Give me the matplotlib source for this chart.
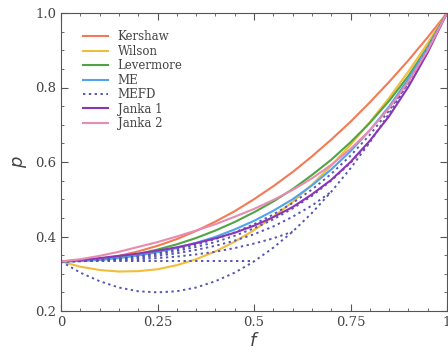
import matplotlib
matplotlib.use("Agg")
import matplotlib.pyplot as plt
from matplotlib.ticker import MultipleLocator

# flux factor grid and Eddington factor p for each closure
f = [0.00, 0.05, 0.10, 0.15, 0.20, 0.25, 0.30, 0.35, 0.40, 0.45, 0.50,
     0.55, 0.60, 0.65, 0.70, 0.75, 0.80, 0.85, 0.90, 0.95, 1.00]

kershaw = [0.333, 0.335, 0.340, 0.348, 0.360, 0.375, 0.393, 0.415, 0.440, 0.468, 0.500,
           0.535, 0.573, 0.615, 0.660, 0.708, 0.760, 0.815, 0.873, 0.935, 1.000]
wilson = [0.333, 0.319, 0.310, 0.306, 0.307, 0.312, 0.323, 0.339, 0.360, 0.386, 0.417,
          0.453, 0.493, 0.539, 0.590, 0.646, 0.707, 0.772, 0.843, 0.919, 1.000]
levermore = [0.333, 0.335, 0.338, 0.345, 0.353, 0.365, 0.379, 0.396, 0.416, 0.439, 0.465,
             0.494, 0.527, 0.565, 0.606, 0.653, 0.705, 0.764, 0.831, 0.909, 1.000]
me = [0.333, 0.334, 0.337, 0.342, 0.349, 0.358, 0.369, 0.383, 0.399, 0.419, 0.442,
      0.469, 0.500, 0.537, 0.580, 0.629, 0.685, 0.749, 0.823, 0.906, 1.000]
janka1 = [0.333, 0.337, 0.342, 0.348, 0.354, 0.362, 0.371, 0.382, 0.395, 0.410, 0.429,
          0.452, 0.479, 0.513, 0.552, 0.600, 0.657, 0.723, 0.802, 0.894, 1.000]
janka2 = [0.333, 0.339, 0.348, 0.359, 0.372, 0.385, 0.400, 0.416, 0.433, 0.453, 0.474,
          0.498, 0.525, 0.556, 0.592, 0.635, 0.685, 0.745, 0.816, 0.900, 1.000]

# MEFD for several degeneracies (each ends at f = 1 - e) and the limiting curve
mefd_e01 = [0.333, 0.334, 0.337, 0.341, 0.347, 0.355, 0.365, 0.378, 0.393, 0.411, 0.433,
            0.459, 0.490, 0.526, 0.568, 0.617, 0.673, 0.738, 0.813]
mefd_e02 = [0.333, 0.334, 0.336, 0.340, 0.345, 0.352, 0.361, 0.372, 0.385, 0.402, 0.422,
            0.446, 0.475, 0.509, 0.550, 0.598, 0.653]
mefd_e03 = [0.333, 0.334, 0.336, 0.338, 0.342, 0.348, 0.355, 0.364, 0.375, 0.389, 0.406,
            0.427, 0.453, 0.483, 0.520]
mefd_e04 = [0.333, 0.334, 0.335, 0.336, 0.339, 0.342, 0.346, 0.352, 0.359, 0.369, 0.381,
            0.395, 0.413]
mefd_e05 = [0.333, 0.333, 0.333, 0.333, 0.333, 0.333, 0.333, 0.333, 0.333, 0.333, 0.333]
mefd_lim = [0.333, 0.303, 0.280, 0.263, 0.253, 0.250, 0.253, 0.263, 0.280, 0.303, 0.333,
            0.370, 0.413, 0.463, 0.520, 0.583, 0.653, 0.730, 0.813, 0.903, 1.000]

plt.rcParams["font.family"] = "DejaVu Serif"
fig = plt.figure(figsize=(4.48, 3.54), dpi=100)
ax = fig.add_axes([61/448, 43/354, 386/448, 298/354])

lw = 1.5
ax.plot(f, kershaw, color="#f47a55", lw=lw, label="Kershaw")
ax.plot(f, wilson, color="#f2bd3a", lw=lw, label="Wilson")
ax.plot(f, levermore, color="#4fa544", lw=lw, label="Levermore")
ax.plot(f, me, color="#4ea4ee", lw=lw, label="ME")
dot = dict(color="#5555b2", lw=1.4, ls=(0, (1.2, 1.8)))
ax.plot(f[:19], mefd_e01, label="MEFD", **dot)
ax.plot(f[:17], mefd_e02, **dot)
ax.plot(f[:15], mefd_e03, **dot)
ax.plot(f[:13], mefd_e04, **dot)
ax.plot(f[:11], mefd_e05, **dot)
ax.plot(f, mefd_lim, **dot)
ax.plot(f, janka1, color="#8a35b8", lw=lw, label="Janka 1")
ax.plot(f, janka2, color="#e78bb0", lw=lw, label="Janka 2")

ax.set_xlim(0, 1)
ax.set_ylim(0.2, 1.0)
ax.set_xticks([0, 0.25, 0.5, 0.75, 1])
ax.set_xticklabels(["0", "0.25", "0.5", "0.75", "1"])
ax.set_yticks([0.2, 0.4, 0.6, 0.8, 1.0])
ax.xaxis.set_minor_locator(MultipleLocator(0.05))
ax.yaxis.set_minor_locator(MultipleLocator(0.05))
ax.tick_params(which="both", direction="in", top=True, right=True,
               colors="#555555", labelcolor="#444444", labelsize=9.5)
ax.tick_params(which="major", length=5)
ax.tick_params(which="minor", length=2.5)
for s in ax.spines.values():
    s.set_color("#555555")

ax.set_xlabel("$f$", fontsize=13, color="#444444", labelpad=2)
ax.set_ylabel("$p$", fontsize=13, color="#444444", labelpad=4)

leg = ax.legend(loc="upper left", bbox_to_anchor=(0.018, 0.993), frameon=False,
                fontsize=8.5, labelspacing=0.12, handlelength=2.1, borderaxespad=0.9)
for t in leg.get_texts():
    t.set_color("#444444")

fig.savefig("out.png", dpi=100)
